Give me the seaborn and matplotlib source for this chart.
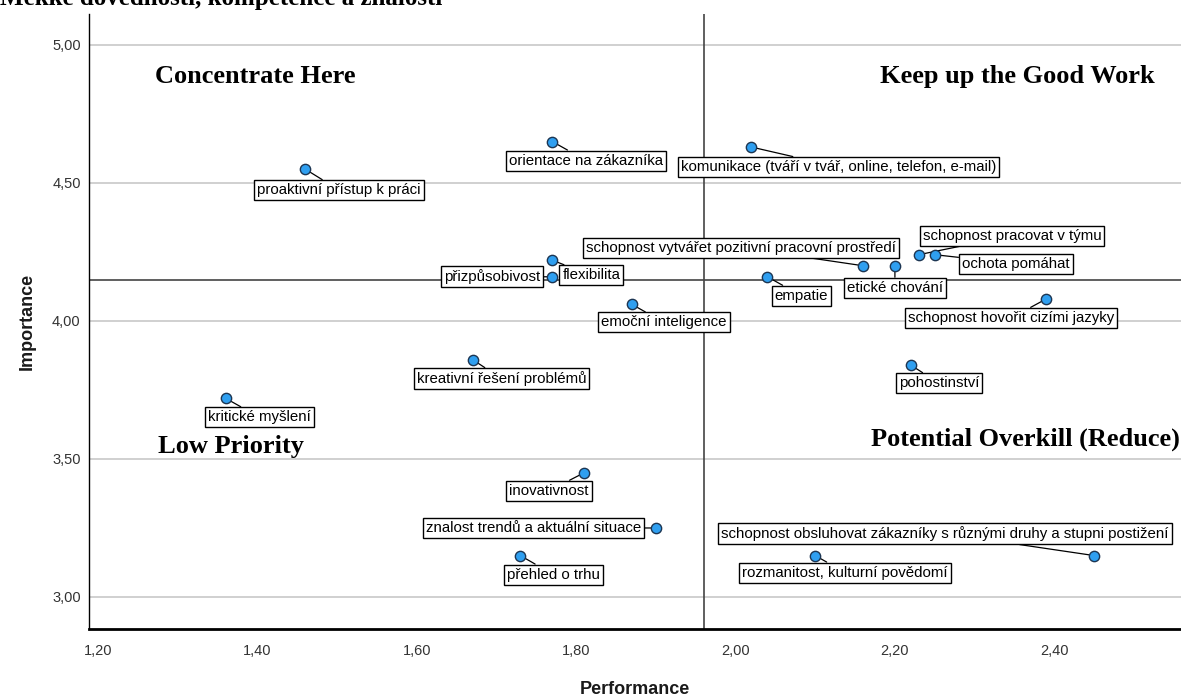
import matplotlib
matplotlib.use("Agg")
import matplotlib.pyplot as plt
import matplotlib.ticker as mticker
import seaborn as sns
import pandas as pd

# === DATA ===
skills = [
    "proaktivní přístup k práci",
    "orientace na zákazníka",
    "komunikace (tváří v tvář, online, telefon, e-mail)",
    "schopnost vytvářet pozitivní pracovní prostředí",
    "schopnost pracovat v týmu",
    "ochota pomáhat",
    "etické chování",
    "přizpůsobivost",
    "flexibilita",
    "empatie",
    "emoční inteligence",
    "schopnost hovořit cizími jazyky",
    "pohostinství",
    "kreativní řešení problémů",
    "kritické myšlení",
    "inovativnost",
    "znalost trendů a aktuální situace",
    "přehled o trhu",
    "rozmanitost, kulturní povědomí",
    "schopnost obsluhovat zákazníky s různými druhy a stupni postižení",
]
performance = [1.46, 1.77, 2.02, 2.16, 2.23, 2.25, 2.20, 1.77, 1.77, 2.04,
               1.87, 2.39, 2.22, 1.67, 1.36, 1.81, 1.90, 1.73, 2.10, 2.45]
importance = [4.55, 4.65, 4.63, 4.20, 4.24, 4.24, 4.20, 4.16, 4.22, 4.16,
              4.06, 4.08, 3.84, 3.86, 3.72, 3.45, 3.25, 3.15, 3.15, 3.15]

# przesunięcia etykiet (piksele): środek ramki względem punktu
label_dx = [34, 34, 87, -122, 93, 81, 0, -60, 39, 34,
            32, -35, 28, 29, 34, -35, -122, 33, 30, -149]
label_dy = [-21, -19, -20, 18, 19, -9, -22, 0, -15, -19,
            -18, -19, -18, -19, -19, -18, 0, -19, -17, 22]

mean_perf = 1.96
mean_imp = 4.15

df = pd.DataFrame({"Skill": skills, "Performance": performance, "Importance": importance})

# === WYKRES ===
sns.set_style("white")
plt.rcParams["font.family"] = ["Liberation Sans", "DejaVu Sans"]

fig = plt.figure(figsize=(11.81, 6.97), dpi=100)
ax = fig.add_axes([89 / 1181, 1 - 629 / 697, 1 - 89 / 1181, 615 / 697])

ax.set_xlim(1.1887, 2.559)
ax.set_ylim(2.884, 5.112)
ax.set_yticks([3.0, 3.5, 4.0, 4.5, 5.0])
ax.set_xticks([1.2, 1.4, 1.6, 1.8, 2.0, 2.2, 2.4])
fmt = mticker.FuncFormatter(lambda v, p: f"{v:.2f}".replace(".", ","))
ax.xaxis.set_major_formatter(fmt)
ax.yaxis.set_major_formatter(fmt)
ax.tick_params(length=0, labelsize=10.5, colors="#333333", pad=6)
ax.tick_params(axis="x", pad=11)
ax.yaxis.grid(True, color="#c8c8c8", lw=1.2)
ax.set_axisbelow(True)

for side in ["top", "right"]:
    ax.spines[side].set_visible(False)
ax.spines["left"].set_color("black")
ax.spines["left"].set_linewidth(1)
ax.spines["bottom"].set_color("black")
ax.spines["bottom"].set_linewidth(2)

ax.axvline(mean_perf, color="#444444", lw=1.2, zorder=1)
ax.axhline(mean_imp, color="#444444", lw=1.2, zorder=1)

for i, row in df.iterrows():
    ax.annotate(row["Skill"], xy=(row["Performance"], row["Importance"]),
                xytext=(label_dx[i], label_dy[i]), textcoords="offset pixels",
                ha="center", va="center", fontsize=10.8, color="black",
                bbox=dict(boxstyle="square,pad=0.2", fc="white", ec="black", lw=1),
                arrowprops=dict(arrowstyle="-", color="black", lw=0.9,
                                shrinkA=0, shrinkB=3),
                zorder=3)

sns.scatterplot(data=df, x="Performance", y="Importance", ax=ax, s=55,
                color="#2f9ff0", edgecolor="#1c3552", linewidth=1, zorder=4)

ax.set_xlabel("Performance", fontsize=13, fontweight="bold", color="#1a1a1a", labelpad=16)
ax.set_ylabel("Importance", fontsize=13, fontweight="bold", color="#1a1a1a", labelpad=12)

quad = dict(fontsize=19, fontweight="bold", family="Liberation Serif",
            color="black", transform=ax.transAxes, va="center")
ax.text(0.0604, 0.898, "Concentrate Here", ha="left", **quad)
ax.text(0.976, 0.898, "Keep up the Good Work", ha="right", **quad)
ax.text(0.0632, 0.296, "Low Priority", ha="left", **quad)
ax.text(0.999, 0.309, "Potential Overkill (Reduce)", ha="right", **quad)

fig.text(0.0, 1 - 5 / 697, "Měkké dovednosti, kompetence a znalosti",
         fontsize=18, fontweight="bold", family="Liberation Serif",
         color="black", ha="left", va="baseline")

fig.savefig("out.png", dpi=100)
